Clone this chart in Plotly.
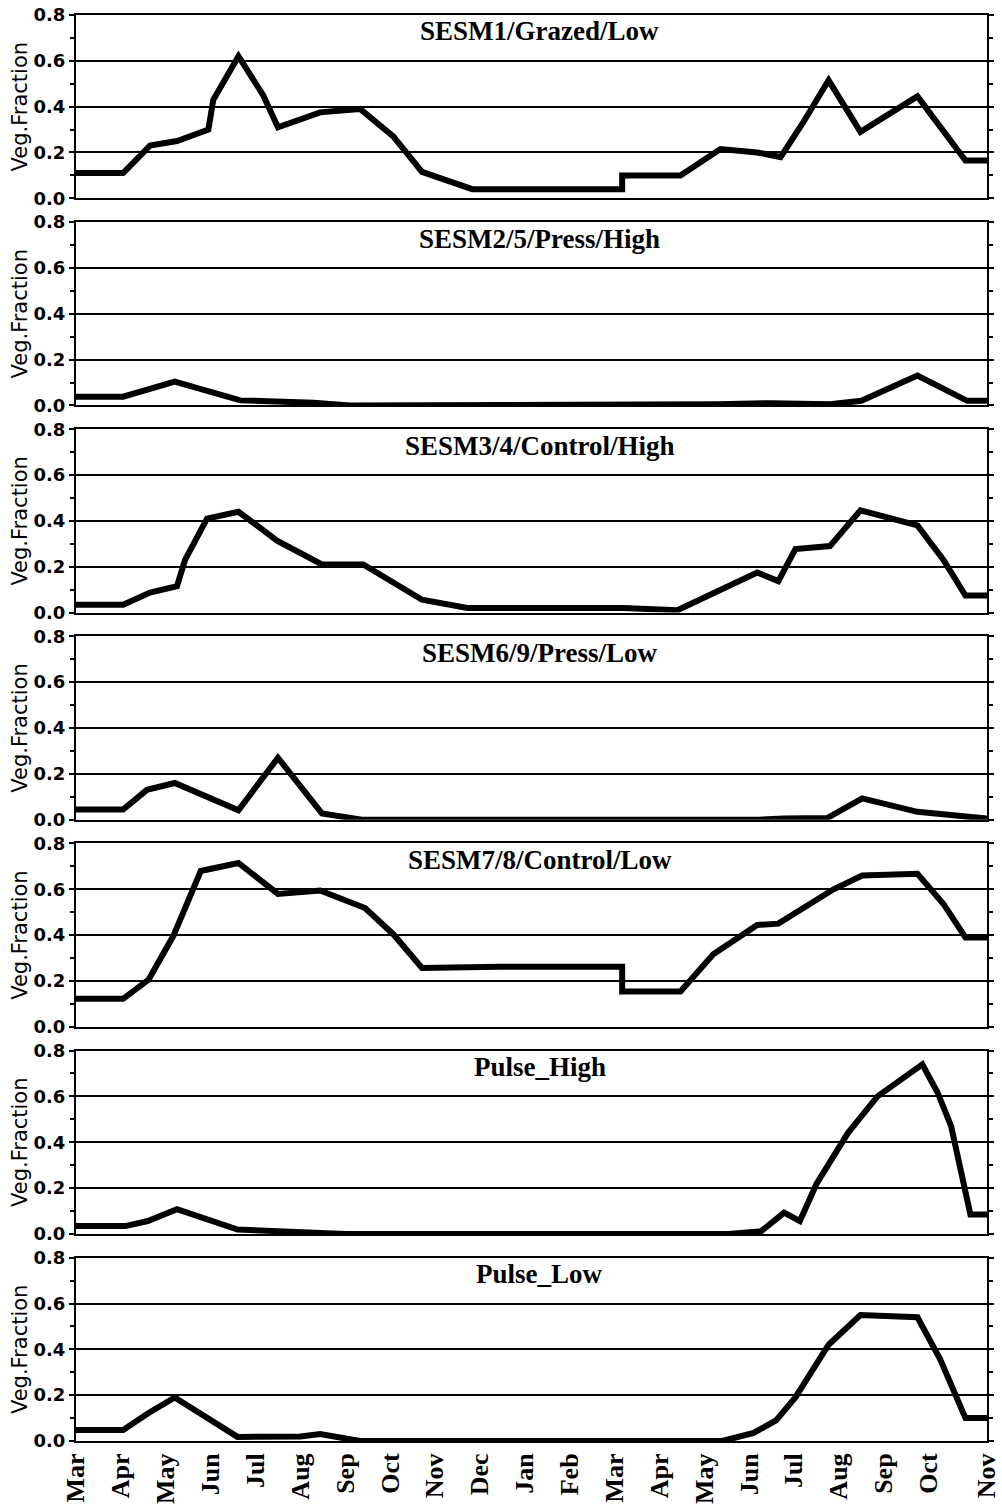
import plotly.graph_objects as go
from plotly.subplots import make_subplots

# Time axis in months since 1 March of the first season
month_labels = ["Mar", "Apr", "May", "Jun", "Jul", "Aug", "Sep", "Oct", "Nov", "Dec",
                "Jan", "Feb", "Mar", "Apr", "May", "Jun", "Jul", "Aug", "Sep", "Oct", "Nov"]
x_end = 20.3

panel_titles = ["SESM1/Grazed/Low", "SESM2/5/Press/High", "SESM3/4/Control/High",
                "SESM6/9/Press/Low", "SESM7/8/Control/Low", "Pulse_High", "Pulse_Low"]

# Vegetation fraction per treatment
t_sesm1 = [0, 1.05, 1.65, 2.25, 2.95, 3.06, 3.62, 4.17, 4.5, 5.44, 6.33, 7.07, 7.71, 8.83,
           12.17, 12.17, 13.47, 14.36, 15.18, 15.7, 16.2, 16.77, 17.48, 18.75, 19.82, 20.3]
v_sesm1 = [0.11, 0.11, 0.23, 0.25, 0.30, 0.43, 0.62, 0.45, 0.31, 0.375, 0.39, 0.27, 0.115, 0.04,
           0.04, 0.10, 0.10, 0.215, 0.20, 0.18, 0.33, 0.515, 0.29, 0.445, 0.165, 0.165]

t_sesm2 = [0, 1.05, 2.2, 3.66, 5.3, 6.1, 14.3, 15.5, 16.8, 17.5, 18.75, 19.86, 20.3]
v_sesm2 = [0.038, 0.038, 0.104, 0.022, 0.012, 0.0, 0.005, 0.01, 0.005, 0.02, 0.13, 0.02, 0.02]

t_sesm3 = [0, 1.05, 1.65, 2.25, 2.43, 2.92, 3.62, 4.48, 5.48, 6.4, 7.71, 8.72, 12.2, 13.4,
           15.18, 15.65, 16.03, 16.8, 17.48, 18.75, 19.33, 19.82, 20.3]
v_sesm3 = [0.034, 0.034, 0.087, 0.115, 0.23, 0.41, 0.44, 0.314, 0.21, 0.21, 0.056, 0.02, 0.02, 0.01,
           0.175, 0.137, 0.277, 0.29, 0.446, 0.38, 0.23, 0.074, 0.074]

t_sesm6 = [0, 1.05, 1.58, 2.2, 3.62, 4.5, 5.48, 6.37, 15.2, 15.76, 16.74, 17.52, 18.75, 19.82, 20.3]
v_sesm6 = [0.044, 0.044, 0.13, 0.16, 0.041, 0.27, 0.027, 0.0, 0.0, 0.005, 0.007, 0.093, 0.034, 0.012, 0.005]

t_sesm7 = [0, 1.05, 1.62, 2.17, 2.78, 3.62, 4.5, 5.44, 6.44, 7.07, 7.71, 9.45, 12.17, 12.17, 13.47,
           14.2, 15.18, 15.65, 16.88, 17.52, 18.75, 19.33, 19.82, 20.3]
v_sesm7 = [0.122, 0.122, 0.206, 0.397, 0.68, 0.715, 0.58, 0.595, 0.518, 0.404, 0.257, 0.262, 0.262, 0.154, 0.154,
           0.316, 0.444, 0.45, 0.60, 0.66, 0.668, 0.536, 0.39, 0.39]

t_pulse_high = [0, 1.1, 1.6, 2.25, 3.6, 4.9, 6.0, 14.55, 15.27, 15.78, 16.13, 16.5, 17.2, 17.86,
                18.86, 19.2, 19.5, 19.93, 20.3]
v_pulse_high = [0.034, 0.034, 0.056, 0.108, 0.019, 0.012, 0.0, 0.0, 0.012, 0.093, 0.056, 0.218, 0.44, 0.60,
                0.74, 0.616, 0.47, 0.085, 0.085]

t_pulse_low = [0, 1.05, 1.6, 2.2, 3.6, 5.0, 5.44, 6.33, 14.4, 15.1, 15.6, 16.03, 16.77, 17.48,
               18.75, 19.26, 19.82, 20.3]
v_pulse_low = [0.048, 0.048, 0.12, 0.19, 0.018, 0.02, 0.03, 0.0, 0.0, 0.035, 0.09, 0.19, 0.42, 0.55,
               0.54, 0.355, 0.10, 0.10]

series = [(t_sesm1, v_sesm1), (t_sesm2, v_sesm2), (t_sesm3, v_sesm3), (t_sesm6, v_sesm6),
          (t_sesm7, v_sesm7), (t_pulse_high, v_pulse_high), (t_pulse_low, v_pulse_low)]

n = len(series)
fig = make_subplots(rows=n, cols=1, shared_xaxes=True, vertical_spacing=0.0167)

sans = "DejaVu Sans, Arial"
serif_bold = "Liberation Serif, Times New Roman"

for i, ((t, v), title) in enumerate(zip(series, panel_titles), start=1):
    fig.add_trace(go.Scatter(x=t, y=v, mode="lines",
                             line=dict(color="black", width=6),
                             showlegend=False), row=i, col=1)
    fig.update_yaxes(range=[0, 0.8], tickvals=[0, 0.2, 0.4, 0.6, 0.8],
                     ticktext=["<b>0.0</b>", "<b>0.2</b>", "<b>0.4</b>", "<b>0.6</b>", "<b>0.8</b>"],
                     tickfont=dict(family=sans, size=18, color="black"),
                     ticks="outside", ticklen=5, tickwidth=1.5, tickcolor="black",
                     minor=dict(dtick=0.1, tick0=0, ticks="outside", ticklen=4, tickcolor="black", showgrid=False),
                     showgrid=True, gridcolor="black", gridwidth=1.5,
                     showline=True, linecolor="black", linewidth=2, mirror="ticks",
                     zeroline=False, automargin=False,
                     title=dict(text="Veg.Fraction", standoff=0,
                                font=dict(family=sans, size=21, color="black")),
                     row=i, col=1)
    fig.update_xaxes(range=[0, x_end], showgrid=False, zeroline=False,
                     showline=True, linecolor="black", linewidth=2, mirror=True,
                     ticks="", showticklabels=(i == n), automargin=False, row=i, col=1)
    yref = "y domain" if i == 1 else f"y{i} domain"
    xref = "x domain" if i == 1 else f"x{i} domain"
    fig.add_annotation(x=0.509, y=0.91, xref=xref, yref=yref, text=f"<b>{title}</b>",
                       showarrow=False, xanchor="center", yanchor="middle",
                       font=dict(family=serif_bold, size=27, color="black"))

tick_positions = list(range(len(month_labels) - 1)) + [x_end]
fig.update_xaxes(tickvals=tick_positions, ticktext=[f"<b>{m}</b>" for m in month_labels],
                 tickangle=-90, tickfont=dict(family=serif_bold, size=26, color="black"),
                 row=n, col=1)

fig.update_layout(width=1002, height=1507, paper_bgcolor="white", plot_bgcolor="white",
                  margin=dict(l=76, r=15, t=15, b=66), showlegend=False)

fig.write_html("out.html")
